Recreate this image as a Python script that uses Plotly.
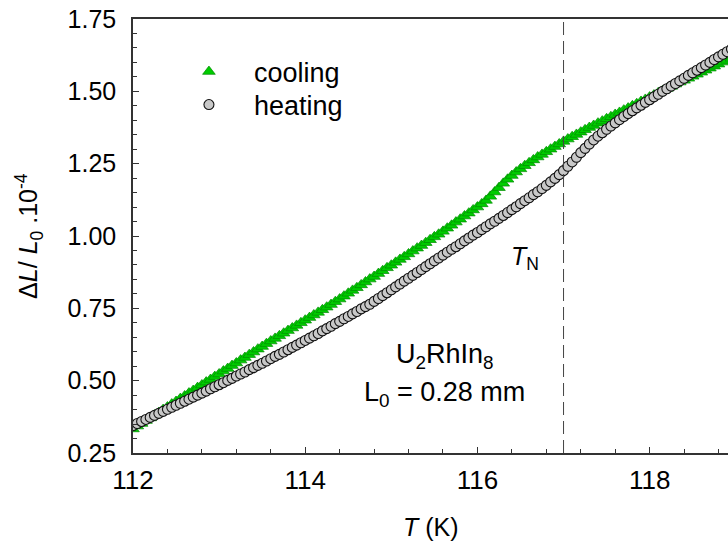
import plotly.graph_objects as go

# Temperature grid (K), shared by both sweeps
T_K = [
    112.00, 112.05, 112.10, 112.15, 112.20, 112.25, 112.30, 112.35, 112.40, 112.45,
    112.50, 112.55, 112.60, 112.65, 112.70, 112.75, 112.80, 112.85, 112.90, 112.95,
    113.00, 113.05, 113.10, 113.15, 113.20, 113.25, 113.30, 113.35, 113.40, 113.45,
    113.50, 113.55, 113.60, 113.65, 113.70, 113.75, 113.80, 113.85, 113.90, 113.95,
    114.00, 114.05, 114.10, 114.15, 114.20, 114.25, 114.30, 114.35, 114.40, 114.45,
    114.50, 114.55, 114.60, 114.65, 114.70, 114.75, 114.80, 114.85, 114.90, 114.95,
    115.00, 115.05, 115.10, 115.15, 115.20, 115.25, 115.30, 115.35, 115.40, 115.45,
    115.50, 115.55, 115.60, 115.65, 115.70, 115.75, 115.80, 115.85, 115.90, 115.95,
    116.00, 116.05, 116.10, 116.15, 116.20, 116.25, 116.30, 116.35, 116.40, 116.45,
    116.50, 116.55, 116.60, 116.65, 116.70, 116.75, 116.80, 116.85, 116.90, 116.95,
    117.00, 117.05, 117.10, 117.15, 117.20, 117.25, 117.30, 117.35, 117.40, 117.45,
    117.50, 117.55, 117.60, 117.65, 117.70, 117.75, 117.80, 117.85, 117.90, 117.95,
    118.00, 118.05, 118.10, 118.15, 118.20, 118.25, 118.30, 118.35, 118.40, 118.45,
    118.50, 118.55, 118.60, 118.65, 118.70, 118.75, 118.80, 118.85, 118.90, 118.95,
]

# dL/L0 (x 1e-4), cooling sweep
dL_cooling = [
    0.333, 0.343, 0.352, 0.362, 0.371, 0.381, 0.390, 0.400, 0.409, 0.419,
    0.428, 0.438, 0.447, 0.457, 0.466, 0.476, 0.485, 0.495, 0.504, 0.514,
    0.523, 0.533, 0.542, 0.552, 0.561, 0.571, 0.580, 0.590, 0.599, 0.609,
    0.618, 0.628, 0.637, 0.646, 0.655, 0.664, 0.673, 0.682, 0.691, 0.700,
    0.709, 0.718, 0.727, 0.736, 0.745, 0.754, 0.763, 0.773, 0.782, 0.792,
    0.802, 0.812, 0.821, 0.831, 0.841, 0.851, 0.860, 0.870, 0.880, 0.890,
    0.899, 0.909, 0.919, 0.928, 0.938, 0.948, 0.958, 0.967, 0.977, 0.987,
    0.997, 1.006, 1.016, 1.027, 1.037, 1.048, 1.058, 1.069, 1.079, 1.090,
    1.100, 1.111, 1.123, 1.137, 1.152, 1.167, 1.182, 1.196, 1.209, 1.221,
    1.232, 1.243, 1.253, 1.263, 1.273, 1.282, 1.291, 1.300, 1.309, 1.318,
    1.327, 1.335, 1.343, 1.351, 1.359, 1.367, 1.375, 1.382, 1.390, 1.397,
    1.405, 1.412, 1.420, 1.427, 1.435, 1.442, 1.450, 1.457, 1.465, 1.472,
    1.480, 1.487, 1.495, 1.502, 1.510, 1.517, 1.525, 1.532, 1.538, 1.545,
    1.552, 1.559, 1.566, 1.573, 1.580, 1.587, 1.594, 1.601, 1.607, 1.614,
]

# dL/L0 (x 1e-4), heating sweep
dL_heating = [
    0.345, 0.352, 0.359, 0.366, 0.373, 0.380, 0.387, 0.394, 0.401, 0.408,
    0.415, 0.422, 0.429, 0.436, 0.443, 0.450, 0.457, 0.464, 0.472, 0.479,
    0.486, 0.493, 0.501, 0.508, 0.516, 0.523, 0.530, 0.538, 0.545, 0.553,
    0.560, 0.568, 0.576, 0.584, 0.591, 0.599, 0.607, 0.615, 0.623, 0.631,
    0.639, 0.647, 0.655, 0.663, 0.672, 0.680, 0.688, 0.697, 0.705, 0.714,
    0.722, 0.731, 0.739, 0.748, 0.756, 0.764, 0.774, 0.784, 0.794, 0.804,
    0.814, 0.824, 0.834, 0.844, 0.854, 0.864, 0.874, 0.884, 0.894, 0.904,
    0.914, 0.924, 0.934, 0.944, 0.954, 0.963, 0.973, 0.983, 0.993, 1.003,
    1.012, 1.022, 1.032, 1.042, 1.051, 1.061, 1.071, 1.081, 1.091, 1.101,
    1.112, 1.122, 1.132, 1.143, 1.153, 1.164, 1.175, 1.187, 1.199, 1.212,
    1.226, 1.241, 1.256, 1.272, 1.288, 1.303, 1.318, 1.332, 1.345, 1.357,
    1.369, 1.380, 1.391, 1.402, 1.413, 1.423, 1.433, 1.443, 1.452, 1.462,
    1.471, 1.481, 1.490, 1.500, 1.509, 1.518, 1.527, 1.536, 1.545, 1.555,
    1.564, 1.573, 1.582, 1.591, 1.600, 1.610, 1.619, 1.628, 1.637, 1.646,
]

T_NEEL = 117.0
X_RANGE = [112.0, 118.91]
Y_RANGE = [0.25, 1.75]
X_TICKS = [112, 114, 116, 118]
Y_TICKS = [0.25, 0.50, 0.75, 1.00, 1.25, 1.50, 1.75]

FONT = "Liberation Sans, Arial, sans-serif"
AXIS_COLOR = "#333333"

fig = go.Figure()

fig.add_trace(go.Scatter(
    x=T_K, y=dL_cooling, mode="markers", name="cooling", legend="legend",
    marker=dict(symbol="triangle-up", size=11, color="#00cc00",
                line=dict(color="#008a00", width=0.7)),
))
fig.add_trace(go.Scatter(
    x=T_K, y=dL_heating, mode="markers", name="heating", legend="legend2",
    marker=dict(symbol="circle", size=10, color="#c8c8c8",
                line=dict(color="#111111", width=1.1)),
))

# Neel temperature marker
fig.add_shape(type="line", xref="x", yref="y",
              x0=T_NEEL, x1=T_NEEL, y0=Y_RANGE[0], y1=Y_RANGE[1],
              line=dict(color="#444444", width=1, dash="13px,6px"))

fig.add_annotation(x=116.55, y=0.924, xref="x", yref="y", showarrow=False,
                   text="<i>T</i><sub>N</sub>", font=dict(size=25, color="black"))
fig.add_annotation(x=115.62, y=0.585, xref="x", yref="y", showarrow=False,
                   text="U<sub>2</sub>RhIn<sub>8</sub>", font=dict(size=27, color="black"))
fig.add_annotation(x=115.62, y=0.455, xref="x", yref="y", showarrow=False,
                   text="L<sub>0</sub> = 0.28 mm", font=dict(size=27, color="black"))

# Axis titles
fig.add_annotation(x=-0.175, y=0.5, xref="paper", yref="paper", showarrow=False,
                   textangle=-90, xanchor="center", yanchor="middle",
                   text="Δ<i>L</i>/ <i>L</i><sub>0</sub> .10<sup>-4</sup>",
                   font=dict(size=25, color="black"))
fig.add_annotation(x=0.5, y=-0.17, xref="paper", yref="paper", showarrow=False,
                   xanchor="center", yanchor="middle",
                   text="<i>T</i> (K)", font=dict(size=25, color="black"))

fig.update_xaxes(
    range=X_RANGE, tickvals=X_TICKS, ticks="inside", ticklen=6, tickwidth=1.2,
    tickcolor=AXIS_COLOR, showline=True, linecolor=AXIS_COLOR, linewidth=1.5,
    mirror=True, showgrid=False, zeroline=False,
    tickfont=dict(size=26, color="black"), ticklabelstandoff=3,
    minor=dict(dtick=0.4, tick0=112, ticks="inside", ticklen=4,
               tickcolor=AXIS_COLOR, tickwidth=1.2, showgrid=False),
)
fig.update_yaxes(
    range=Y_RANGE, tickvals=Y_TICKS, tickformat=".2f", ticks="inside", ticklen=6,
    tickwidth=1.2, tickcolor=AXIS_COLOR, showline=True, linecolor=AXIS_COLOR,
    linewidth=1.5, showgrid=False, zeroline=False,
    tickfont=dict(size=25, color="black"), ticklabelstandoff=10,
    minor=dict(dtick=0.05, tick0=0.25, ticks="inside", ticklen=4,
               tickcolor=AXIS_COLOR, tickwidth=1.2, showgrid=False),
)

legend_style = dict(xanchor="left", yanchor="middle", bgcolor="rgba(0,0,0,0)",
                    font=dict(size=27, color="black"), itemwidth=80)
legend_x = 0.052

fig.update_layout(
    width=728, height=547,
    margin=dict(l=133, r=0, t=19, b=94, pad=0),
    paper_bgcolor="white", plot_bgcolor="white",
    font=dict(family=FONT, color="black"),
    showlegend=True,
    legend=dict(x=legend_x, y=1 - (72 - 19) / 434, **legend_style),
    legend2=dict(x=legend_x, y=1 - (105 - 19) / 434, **legend_style),
)

fig.write_html("out.html")
